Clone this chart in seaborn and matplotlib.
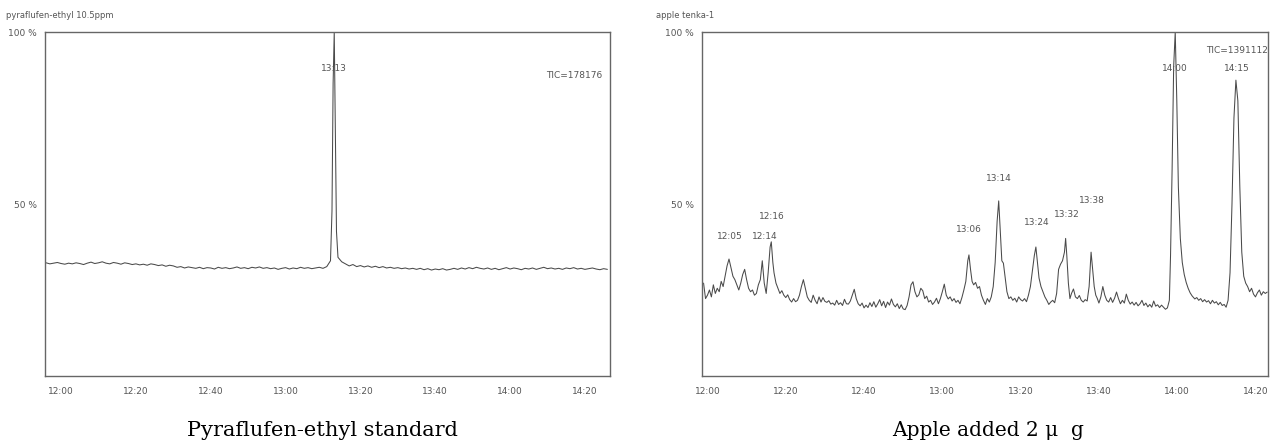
import matplotlib
matplotlib.use("Agg")
import matplotlib.pyplot as plt
import seaborn as sns
from matplotlib.ticker import MultipleLocator

# retention time in minutes (12:00 = 720), relative intensity in %
std_time = list(range(716, 792)) + [792, 792.4, 792.7, 793, 793.3, 793.6, 794] + list(range(795, 867))
std_signal = [
    32.9, 32.6, 32.8, 33.0, 32.7, 32.5, 32.8, 32.6, 32.9, 32.7,
    32.4, 32.8, 33.1, 32.7, 32.9, 33.2, 32.8, 32.6, 33.0, 32.8,
    32.5, 32.9, 32.7, 32.4, 32.6, 32.3, 32.5, 32.2, 32.6, 32.4,
    32.1, 32.3, 31.9, 32.2, 32.0, 31.6, 31.8, 31.4, 31.7, 31.5,
    31.3, 31.6, 31.2, 31.5, 31.4, 31.1, 31.6, 31.3, 31.5, 31.2,
    31.4, 31.7, 31.3, 31.5, 31.2, 31.6, 31.4, 31.7, 31.3, 31.5,
    31.2, 31.4, 31.0, 31.3, 31.5, 31.1, 31.4, 31.2, 31.6, 31.3,
    31.5, 31.2, 31.4, 31.6, 31.3, 31.8,
    33.5, 48.0, 85.0, 100.0, 70.0, 42.0, 34.5,
    33.2, 32.6, 32.0, 32.4, 31.8, 32.1, 31.7, 32.0, 31.6, 31.9,
    31.5, 31.8, 31.4, 31.6, 31.3, 31.5, 31.2, 31.4, 31.1, 31.3,
    31.0, 31.3, 30.9, 31.2, 30.8, 31.1, 30.9, 31.2, 30.8, 31.0,
    31.3, 31.0, 31.4, 31.1, 31.5, 31.2, 31.6, 31.3, 31.1, 31.4,
    31.0, 31.3, 30.9, 31.2, 31.5, 31.1, 31.4, 31.2, 30.9, 31.3,
    31.1, 31.4, 31.0, 31.3, 31.6, 31.2, 31.4, 31.1, 31.3, 31.0,
    31.4, 31.2, 31.5, 31.1, 31.3, 31.0, 31.2, 31.4, 31.1, 30.9,
    31.2, 31.0,
]

apple_time = [
    719.0, 719.5, 720.0, 720.5, 721.0, 721.5, 722.0, 722.5, 723.0, 723.5,
    724.0, 724.5, 725.0, 725.5, 726.0, 726.5, 727.0, 727.5, 728.0, 728.5,
    729.0, 729.5, 730.0, 730.5, 731.0, 731.5, 732.0, 732.5, 733.0, 733.5,
    734.0, 734.5, 735.0, 735.5, 736.0, 736.3, 736.7, 737.0, 737.5, 738.0,
    738.5, 739.0, 739.5, 740.0, 740.5, 741.0, 741.5, 742.0, 742.5, 743.0,
    743.5, 744.0, 744.5, 745.0, 745.5, 746.0, 746.5, 747.0, 747.5, 748.0,
    748.5, 749.0, 749.5, 750.0, 750.5, 751.0, 751.5, 752.0, 752.5, 753.0,
    753.5, 754.0, 754.5, 755.0, 755.5, 756.0, 756.5, 757.0, 757.5, 758.0,
    758.5, 759.0, 759.5, 760.0, 760.5, 761.0, 761.5, 762.0, 762.5, 763.0,
    763.5, 764.0, 764.5, 765.0, 765.5, 766.0, 766.5, 767.0, 767.5, 768.0,
    768.5, 769.0, 769.5, 770.0, 770.5, 771.0, 771.5, 772.0, 772.5, 773.0,
    773.5, 774.0, 774.5, 775.0, 775.5, 776.0, 776.5, 777.0, 777.5, 778.0,
    778.5, 779.0, 779.5, 780.0, 780.5, 781.0, 781.5, 782.0, 782.5, 783.0,
    783.5, 784.0, 784.5, 785.0, 785.5, 786.0, 786.5, 786.8, 787.2, 787.6,
    788.0, 788.5, 789.0, 789.5, 790.0, 790.5, 791.0, 791.5, 792.0, 792.5,
    793.0, 793.5, 794.0, 794.4, 794.8, 795.2, 795.6, 796.0, 796.5, 797.0,
    797.5, 798.0, 798.5, 799.0, 799.5, 800.0, 800.5, 801.0, 801.5, 802.0,
    802.5, 803.0, 803.5, 803.9, 804.3, 804.7, 805.2, 805.7, 806.2, 806.7,
    807.2, 807.7, 808.2, 808.7, 809.2, 809.7, 810.2, 810.7, 811.2, 811.5,
    811.8, 812.2, 812.6, 813.0, 813.5, 814.0, 814.5, 815.0, 815.5, 816.0,
    816.5, 817.0, 817.5, 818.0, 818.4, 818.8, 819.2, 819.6, 820.0, 820.5,
    821.0, 821.5, 822.0, 822.5, 823.0, 823.5, 824.0, 824.5, 825.0, 825.5,
    826.0, 826.5, 827.0, 827.5, 828.0, 828.5, 829.0, 829.5, 830.0, 830.5,
    831.0, 831.5, 832.0, 832.5, 833.0, 833.5, 834.0, 834.5, 835.0, 835.5,
    836.0, 836.5, 837.0, 837.5, 838.0, 838.3, 838.7, 839.1, 839.5, 839.9,
    840.3, 840.8, 841.3, 841.8, 842.3, 842.8, 843.3, 843.8, 844.5, 845.0,
    845.5, 846.0, 846.5, 847.0, 847.5, 848.0, 848.5, 849.0, 849.5, 850.0,
    850.5, 851.0, 851.5, 852.0, 852.5, 853.0, 853.5, 854.0, 854.5, 855.0,
    855.5, 856.0, 856.5, 857.0, 857.5, 858.0, 858.5, 859.0, 859.5, 860.0,
    860.5, 861.0, 861.5, 862.0, 862.5, 863.0,
]
apple_signal = [
    27.0, 22.5, 23.5, 25.0, 23.0, 26.5, 24.0, 25.5, 24.5, 27.5,
    26.0, 29.0, 32.0, 34.0, 31.5, 29.0, 28.0, 26.5, 25.0, 27.0,
    29.5, 31.0, 28.0, 25.5, 24.5, 25.0, 23.5, 24.0, 26.5, 28.0,
    33.5, 27.0, 24.0, 30.0, 37.5, 39.0, 33.0, 30.0, 27.0, 25.5,
    24.0, 24.8, 23.5, 22.8, 23.6, 22.2, 21.5, 22.5, 21.6, 22.0,
    23.5, 26.0, 28.0, 25.5, 23.0, 22.0, 21.4, 23.5, 22.0, 21.0,
    23.0, 21.5, 22.8, 21.7, 21.4, 21.9, 20.9, 21.2, 20.6, 22.0,
    20.8, 21.3, 20.5, 22.3, 21.0, 20.9, 21.8, 23.5, 25.2, 22.5,
    21.0, 20.4, 21.2, 19.8, 20.6, 19.9, 21.3, 20.2, 21.6, 20.0,
    21.0, 22.2, 20.4, 21.7, 19.9, 21.5, 20.6, 22.4, 20.8, 20.1,
    21.0, 19.6, 20.7, 19.5, 19.3, 20.5, 23.0, 26.5, 27.4, 24.5,
    23.0, 23.6, 25.5, 24.8, 22.5, 23.2, 21.5, 22.0, 20.8, 21.5,
    22.6, 21.0, 22.5, 24.5, 26.7, 23.5, 22.4, 23.0, 21.8, 22.5,
    21.4, 22.0, 21.0, 22.8, 25.0, 27.5, 33.5, 35.2, 31.0, 27.5,
    26.5, 27.2, 25.5, 26.0, 23.5, 22.0, 20.8, 22.5, 21.5, 23.0,
    26.0, 33.0, 45.0, 50.9, 42.0, 33.5, 32.8, 29.0, 24.5, 22.5,
    23.0, 22.0, 22.6, 21.5, 23.0, 22.2, 21.8, 22.5, 21.6, 23.5,
    26.0, 30.5, 35.0, 37.5, 33.0, 28.5, 26.0, 24.5, 23.0, 22.0,
    20.8, 21.5, 22.0, 21.3, 24.0, 31.0, 32.5, 33.5, 36.0, 40.0,
    35.0, 27.0, 22.5, 24.0, 25.3, 23.0, 22.5, 23.4, 22.0, 21.5,
    22.2, 21.8, 26.0, 36.0, 31.0, 26.0, 23.5, 22.5, 21.2, 23.0,
    26.0, 23.5, 22.0, 21.5, 22.8, 21.4, 22.6, 24.4, 22.5, 21.0,
    22.0, 21.2, 23.8, 22.0, 20.9, 21.5, 20.6, 21.4, 20.4, 21.0,
    22.0, 20.5, 21.2, 20.1, 20.8, 20.0, 21.8, 20.3, 20.7, 19.9,
    20.6, 20.0, 19.4, 19.8, 22.0, 35.0, 60.0, 90.0, 100.0, 80.0,
    55.0, 40.0, 33.0, 29.5, 27.2, 25.5, 24.2, 23.3, 22.4, 22.8,
    22.0, 22.5, 21.6, 22.2, 21.5, 21.9, 21.0, 22.0, 21.2, 21.6,
    20.7, 21.4, 20.5, 20.8, 20.0, 22.0, 30.0, 50.0, 75.0, 86.0,
    80.0, 55.0, 36.0, 29.0, 27.0, 26.0, 24.5, 25.5, 23.8, 23.0,
    24.2, 25.0, 23.5, 24.5, 24.0, 24.4,
]

tick_minutes = [720, 740, 760, 780, 800, 820, 840, 860]
tick_labels = ["12:00", "12:20", "12:40", "13:00", "13:20", "13:40", "14:00", "14:20"]

std_peaks = ["13:13"]
std_peak_pos = [(793.0, 89.5)]
apple_peaks = ["12:05", "12:14", "12:16", "13:06", "13:14", "13:24", "13:32", "13:38", "14:00", "14:15"]
apple_peak_pos = [(725.6, 40.5), (734.6, 40.5), (736.5, 46.5), (786.8, 42.5), (794.4, 57.5),
                  (804.0, 44.5), (811.8, 47.0), (818.3, 51.0), (839.5, 89.5), (855.2, 89.5)]

sns.set_style("white")
plt.rcParams['font.family'] = ['DejaVu Sans']
small = 6.5

fig = plt.figure(figsize=(12.77, 4.46), dpi=100)
ax1 = fig.add_axes([45 / 1277, 1 - 376 / 446, 565 / 1277, 344 / 446])
ax2 = fig.add_axes([702 / 1277, 1 - 376 / 446, 566 / 1277, 344 / 446])

line_col = "#4a4a4a"
txt_col = "#555555"

sns.lineplot(x=std_time, y=std_signal, ax=ax1, color=line_col, linewidth=0.75, estimator=None)
sns.lineplot(x=apple_time, y=apple_signal, ax=ax2, color=line_col, linewidth=0.75, estimator=None)

for ax, xlim in [(ax1, (715.7, 866.7)), (ax2, (718.6, 863.2))]:
    ax.set_xlim(*xlim)
    ax.set_ylim(0, 100)
    ax.set_xticks(tick_minutes)
    ax.set_xticklabels(tick_labels)
    ax.xaxis.set_minor_locator(MultipleLocator(2))
    ax.set_yticks([0, 50, 100])
    ax.set_yticklabels(["", "50 %", "100 %"])
    ax.yaxis.set_minor_locator(MultipleLocator(10))
    ax.tick_params(axis="both", which="major", direction="out", length=6, width=0.8,
                   color="#666666", labelsize=small, labelcolor=txt_col, pad=2)
    ax.tick_params(axis="both", which="minor", direction="out", length=2.5, width=0.6,
                   color="#777777")
    ax.tick_params(axis="y", which="major", length=5, pad=1)
    ax.set_xlabel("")
    ax.set_ylabel("")
    for s in ax.spines.values():
        s.set_visible(True)
        s.set_color("#666666")
        s.set_linewidth(1.0)

for lab, (x, y) in zip(std_peaks, std_peak_pos):
    ax1.text(x, y, lab, ha="center", va="center", fontsize=small, color=txt_col)
for lab, (x, y) in zip(apple_peaks, apple_peak_pos):
    ax2.text(x, y, lab, ha="center", va="center", fontsize=small, color=txt_col)

ax1.text(857.0, 87.5, "TIC=178176", ha="center", va="center", fontsize=small, color=txt_col)
ax2.text(855.3, 94.5, "TIC=1391112", ha="center", va="center", fontsize=small, color=txt_col)

fig.text(6 / 1277, 1 - 15 / 446, "pyraflufen-ethyl 10.5ppm", ha="left", va="center",
         fontsize=6, color=txt_col)
fig.text(656 / 1277, 1 - 15 / 446, "apple tenka-1", ha="left", va="center",
         fontsize=6, color=txt_col)

fig.text(322 / 1277, 1 - 430 / 446, "Pyraflufen-ethyl standard", ha="center", va="center",
         fontsize=15, family="DejaVu Serif", color="black")
fig.text(988 / 1277, 1 - 430 / 446, "Apple added 2 \u03bc  g", ha="center", va="center",
         fontsize=14.5, family="DejaVu Serif", color="black")

fig.savefig("out.png", dpi=100)
